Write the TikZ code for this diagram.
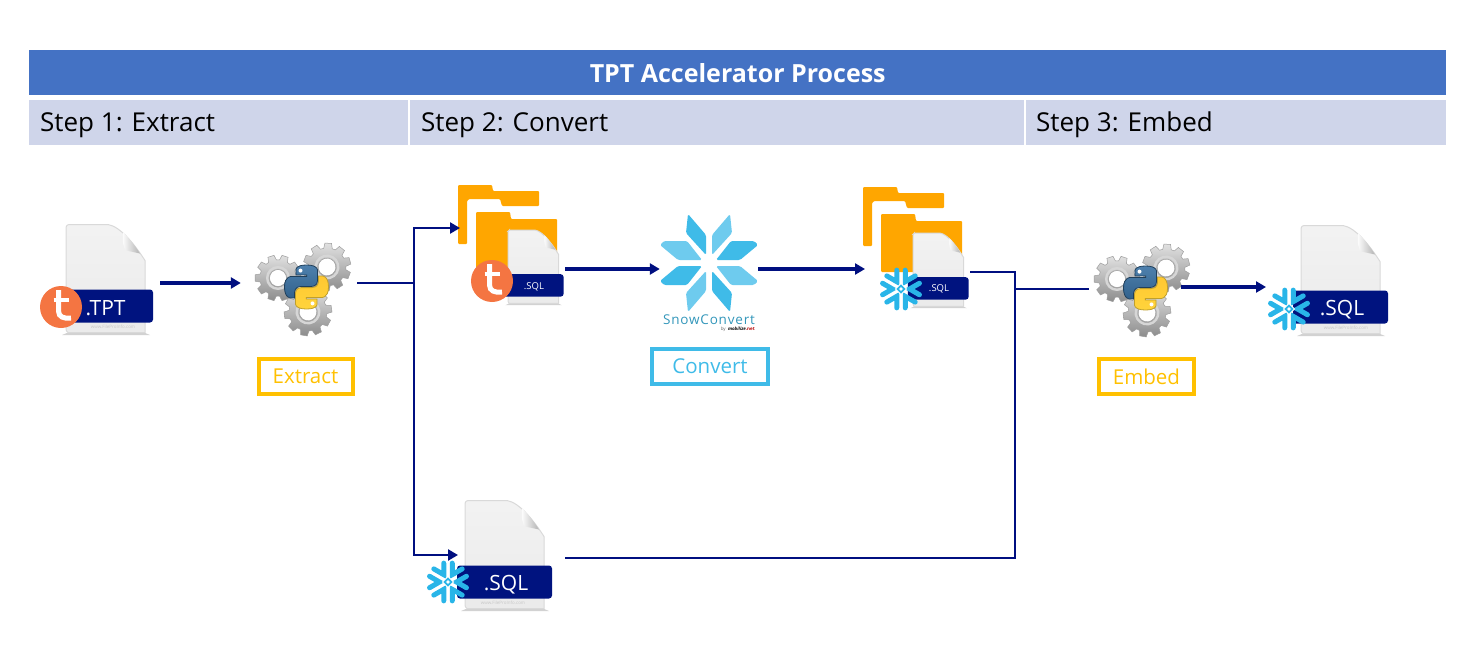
\documentclass[tikz,border=0pt]{standalone}
\usepackage{fontspec}
\setmainfont{Open Sans}
\usetikzlibrary{arrows.meta}
\definecolor{hdrblue}{HTML}{4472C4}
\definecolor{hdrpale}{HTML}{CFD5EA}
\definecolor{navyline}{HTML}{000F80}
\definecolor{bandnavy}{HTML}{00137F}
\definecolor{amber}{HTML}{FFC000}
\definecolor{skyb}{HTML}{3FBBE8}
\definecolor{skyl}{HTML}{6ECBEE}
\definecolor{flake}{HTML}{29B5E8}
\definecolor{folderc}{HTML}{FFA600}
\definecolor{tdorange}{HTML}{F47542}
\definecolor{pyblue}{HTML}{3A72A4}
\definecolor{pyyellow}{HTML}{FFD43B}
\tikzset{
  x=1pt,y=-1pt,
  hdrcell/.style={fill=hdrpale,draw=none,anchor=north west,inner sep=0pt,minimum height=45,text=black},
  tag/.style={draw=#1,text=#1,line width=4pt,inner sep=0pt,minimum height=35,font=\fontsize{20.5}{24}\selectfont},
  hub/.style={inner sep=0pt,minimum height=6,draw=none},
  flow/.style={draw=navyline,line width=3.1pt,-{Triangle[length=10pt,width=11pt]}},
  elbow/.style={draw=navyline,line width=2.4pt,-{Triangle[length=10pt,width=11pt]}},
  wire/.style={draw=navyline,line width=2pt},
  bandtext/.style={text=white,inner sep=0pt},
}
\newcommand{\fileicon}[4]{%
  \begin{scope}[shift={(#1,#2)},xscale=#3,yscale=#4]
    \fill[gray!35] (2,108) -- (78,108) -- (84,110.5) -- (-4,110.5) -- cycle;
    \path[draw=black!15,line width=1pt,top color=black!5,bottom color=black!8]
      (2,0) -- (42,0) .. controls (55,2) and (70,22) .. (79,36) -- (79,108) -- (2,108) [rounded corners=1pt] -- (0,106) -- (0,2) -- cycle;
    \path[left color=white,right color=black!30] (57,8) .. controls (56,18) and (58,24) .. (60,26) -- (74,29) .. controls (68,20) and (62,12) .. (57,8) -- cycle;
    \fill[bandnavy,rounded corners=3pt] (-8,65) rectangle (87,98);
  \end{scope}}
\newcommand{\gearwheel}[4]{%
  \begin{scope}[shift={(#1,#2)},rotate=#4,scale=#3]
    \path[top color=black!12,bottom color=black!45,draw=black!38,line width=.5pt,even odd rule]
      (-13:.79) \foreach \k in {0,...,9}{ -- (\k*36-13:.79) -- (\k*36-8:1) -- (\k*36+8:1) -- (\k*36+13:.79)} -- cycle
      (0,0) circle (.37);
    \draw[black!16,line width=2.4pt] (0,0) circle (.47);
  \end{scope}}
\newcommand{\pysnake}{%
  (54.9,0) .. controls (26.9,0) and (28.6,12.2) .. (28.6,12.2) -- (28.7,24.8) -- (55.4,24.8) -- (55.4,28.6) -- (18.1,28.6)
  .. controls (18.1,28.6) and (0,26.5) .. (0,55) .. controls (0,83.5) and (15.8,82.5) .. (15.8,82.5) -- (25.2,82.5) -- (25.2,69.3)
  .. controls (25.2,69.3) and (24.7,53.5) .. (40.8,53.5) -- (67.6,53.5) .. controls (67.6,53.5) and (82.7,53.7) .. (82.7,38.9)
  -- (82.7,14.5) .. controls (82.7,14.5) and (85,0) .. (54.9,0) -- cycle}
\newcommand{\gearspy}[2]{%
  \begin{scope}[shift={(#1,#2)}]
    \gearwheel{2}{25}{24}{8}
    \gearwheel{-28}{-9}{23}{0}
    \gearwheel{21}{-20}{24}{15}
    \begin{scope}[shift={(-21.5,-22)},scale=.4]
      \path[draw=black!45!pyblue,line width=.8pt,top color=pyblue!90,bottom color=pyblue!85!black] \pysnake;
      \fill[white] (40,14) circle (5);
      \begin{scope}[shift={(110,110)},xscale=-1,yscale=-1]
        \path[draw=black!25!pyyellow,line width=.8pt,top color=pyyellow!85!orange,bottom color=pyyellow] \pysnake;
        \fill[white] (40,14) circle (5);
      \end{scope}
    \end{scope}
  \end{scope}}
\newcommand{\flakelogo}[2]{%
  \begin{scope}[shift={(#1,#2)}]
    \foreach \a in {0,60,...,300}{
      \draw[flake,line width=5pt,line cap=round,line join=miter]
        (\a:8.5) ++(\a+30:11.5) -- (\a:8.5) -- ++(\a-30:11.5);
    }
    \fill[white] (-6.2,0) -- (0,-6.2) -- (6.2,0) -- (0,6.2) -- cycle;
    \draw[flake,line width=1.7pt] (-3.4,0) -- (0,-3.4) -- (3.4,0) -- (0,3.4) -- cycle;
  \end{scope}}
\newcommand{\tlogo}[2]{%
  \begin{scope}[shift={(#1,#2)}]
    \fill[tdorange] (0,0) circle (21);
    \draw[white,line width=5pt] (-2.5,-17) -- (-2.5,4) .. controls (-2.5,10) and (3,12) .. (10,11);
    \draw[white,line width=4.4pt] (-7.5,-7) -- (7.5,-7);
  \end{scope}}
\newcommand{\folderpair}[2]{%
  \begin{scope}[shift={(#1,#2)}]
    \fill[folderc,rounded corners=1pt] (0,0) -- (34,0) -- (35,6) -- (81,6) -- (81,21) -- (44,21) -- (42,14) -- (11,14) -- (9,16) -- (9,59) -- (0,59) -- cycle;
    \fill[folderc,rounded corners=1pt] (18,27) -- (52,27) -- (53,34) -- (99,34) -- (99,85) -- (18,85) -- cycle;
  \end{scope}}
\newcommand{\petalset}{%
  \fill[skyl,rounded corners=1.5pt] (21,-49) -- (23,-30) -- (3,-8) -- (3,-28) -- cycle;
  \fill[skyb,rounded corners=1.5pt] (22,-22) -- (45,-22) -- (49,-18) -- (31,-3) -- (7,-3) -- cycle;}
\newcommand{\petalalt}{%
  \fill[skyb,rounded corners=1.5pt] (21,-49) -- (23,-30) -- (3,-8) -- (3,-28) -- cycle;
  \fill[skyl,rounded corners=1.5pt] (22,-22) -- (45,-22) -- (49,-18) -- (31,-3) -- (7,-3) -- cycle;}
\begin{document}
\begin{tikzpicture}
\useasboundingbox (0,0) rectangle (1484,669);

% banner
\node[fill=hdrblue,text=white,font=\fontsize{25}{28}\bfseries\selectfont,anchor=north west,inner sep=0pt,minimum width=1417,minimum height=45] (title) at (29,50) {TPT Accelerator Process};
\node[hdrcell,minimum width=379] (s1) at (29,100) {};
\node[hdrcell,minimum width=614] (s2) at (410,100) {};
\node[hdrcell,minimum width=420] (s3) at (1026,100) {};
\node[anchor=base west,inner sep=0pt,font=\fontsize{26}{30}\selectfont] (s1t) at (40,131) {Step 1: Extract};
\node[anchor=base west,inner sep=0pt,font=\fontsize{26}{30}\selectfont] (s2t) at (421,131) {Step 2: Convert};
\node[anchor=base west,inner sep=0pt,font=\fontsize{26}{30}\selectfont] (s3t) at (1036,131) {Step 3: Embed};

% icons
\fileicon{66}{224.5}{1}{1}
\node[bandtext,font=\fontsize{21}{24}\selectfont] (tptext) at (105.5,308.5) {.TPT};
\node[font=\fontsize{4.5}{5}\selectfont,text=black!22,inner sep=0pt] (wm1) at (113,327) {www.FileProInfo.com};
\tlogo{61}{307}

\gearspy{306}{287}

\folderpair{458}{185}
\fileicon{508}{230}{.64}{.68}
\node[bandtext,font=\fontsize{9.5}{11}\selectfont] (sqla) at (534,286.5) {.SQL};
\tlogo{492}{281}

\begin{scope}[shift={(709,263)}]
  \petalset
  \begin{scope}[xscale=-1]\petalalt\end{scope}
  \begin{scope}[yscale=-1]\petalalt\end{scope}
  \begin{scope}[xscale=-1,yscale=-1]\petalset\end{scope}
\end{scope}
\node[inner sep=0pt,text=skyb!80!black,font=\fontsize{13.5}{15}\selectfont] (snowname) at (709,319.5) {\addfontfeature{LetterSpace=6}SnowConvert};
\node[inner sep=0pt,anchor=east,font=\fontsize{4.5}{5}\selectfont] (snowby) at (755,329.5) {\textcolor{black!60}{by}\enspace\textbf{\textit{mobilize}}\textcolor{red!70!black}{\textbf{.net}}};

\folderpair{863}{187}
\fileicon{913}{233}{.64}{.68}
\node[bandtext,font=\fontsize{9.5}{11}\selectfont] (sqlb) at (939,289) {.SQL};
\flakelogo{901}{289}

\gearspy{1145}{288}

\fileicon{1301}{225.5}{1}{1}
\node[bandtext,font=\fontsize{21}{24}\selectfont] (sqlc) at (1342,310) {.SQL};
\node[font=\fontsize{4.5}{5}\selectfont,text=black!22,inner sep=0pt] (wm2) at (1346,328) {www.FileProInfo.com};
\flakelogo{1289}{309}

\fileicon{465}{500.5}{1}{1}
\node[bandtext,font=\fontsize{21}{24}\selectfont] (sqld) at (506,585) {.SQL};
\node[font=\fontsize{4.5}{5}\selectfont,text=black!22,inner sep=0pt] (wm3) at (503,603) {www.FileProInfo.com};
\flakelogo{448}{582}

% tags
\node[tag=amber,minimum width=94] (extract) at (305.5,376) {Extract};
\node[tag=skyb,minimum width=116] (convert) at (710,366.5) {Convert};
\node[tag=amber,minimum width=95] (embed) at (1146.5,376.5) {Embed};

% connector ports: invisible nodes around the icons
\node[hub,minimum width=0] (tptout) at (160,283) {};
\node[hub,minimum width=116] (gearsa) at (299,283) {};
\node[hub,minimum width=0] (folderain) at (460,228) {};
\node[hub,minimum width=0] (folderaout) at (565,269) {};
\node[hub,minimum width=98] (snow) at (709,269) {};
\node[hub,minimum width=0] (folderbin) at (865,269) {};
\node[hub,minimum width=0] (folderbout) at (970,272) {};
\node[hub,minimum width=0] (filedin) at (458,555) {};
\node[hub,minimum width=0] (filedout) at (565,558) {};
\node[hub,minimum width=92] (gearsb) at (1135,289) {};
\node[hub,minimum width=0] (gearsbout) at (1181,287) {};
\node[hub,minimum width=0] (filecin) at (1266,287) {};
\coordinate (busa) at (414,283);
\coordinate (busb) at (1015,289);

% connectors
\draw[flow] (tptout.center) -- (gearsa.west);
\draw[wire] (gearsa.east) -- (busa);
\draw[elbow] (busa) |- (folderain.center);
\draw[elbow] (busa) |- (filedin.center);
\draw[flow] (folderaout.center) -- (snow.west);
\draw[flow] (snow.east) -- (folderbin.center);
\draw[wire] (folderbout.center) -| (busb);
\draw[wire] (filedout.center) -| (busb);
\draw[wire] (busb) -- (gearsb.west);
\draw[flow] (gearsbout.center) -- (filecin.center);
\end{tikzpicture}
\end{document}
